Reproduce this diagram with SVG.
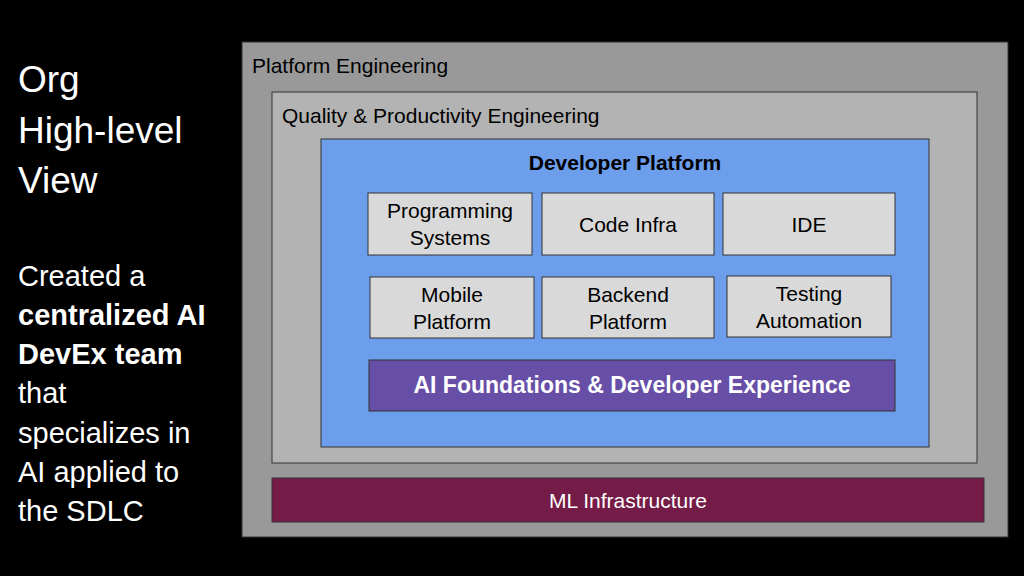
<svg xmlns="http://www.w3.org/2000/svg" width="1024" height="576" viewBox="0 0 1024 576">
<style>
text{font-family:"Liberation Sans",Arial,sans-serif}
.lt{fill:#fff;font-size:37px}
.p{fill:#fff;font-size:29px}
.b{fill:#d9d9d9;stroke:#333;stroke-width:1}
.bt{font-size:21px;fill:#000;text-anchor:middle}
</style>
<rect width="1024" height="576" fill="#000"/>
<text class="lt" x="18" y="92">Org</text>
<text class="lt" x="18" y="143">High-level</text>
<text class="lt" x="18" y="193">View</text>
<text class="p" x="18" y="286">Created a</text>
<text class="p" x="18" y="325" font-weight="bold">centralized AI</text>
<text class="p" x="18" y="364" font-weight="bold">DevEx team</text>
<text class="p" x="18" y="403">that</text>
<text class="p" x="18" y="443">specializes in</text>
<text class="p" x="18" y="482">AI applied to</text>
<text class="p" x="18" y="521">the SDLC</text>
<g id="platform-eng"><rect x="242" y="42" width="766" height="495" fill="#999" stroke="#333"/>
<text x="252" y="73" font-size="21">Platform Engineering</text></g>
<g id="qpe"><rect x="272" y="92" width="705" height="371" fill="#b3b3b3" stroke="#333"/>
<text x="282" y="123" font-size="21">Quality &amp; Productivity Engineering</text></g>
<g id="devplat"><rect x="321" y="139" width="608" height="308" fill="#6d9eeb" stroke="#333"/>
<text x="625" y="170" font-size="21" font-weight="bold" text-anchor="middle">Developer Platform</text></g>
<g id="prog"><rect class="b" x="368" y="193" width="164" height="62"/><text class="bt" x="450" y="218">Programming</text><text class="bt" x="450" y="245">Systems</text></g>
<g id="code"><rect class="b" x="542" y="193" width="172" height="62"/><text class="bt" x="628" y="232">Code Infra</text></g>
<g id="ide"><rect class="b" x="723" y="193" width="172" height="62"/><text class="bt" x="809" y="232">IDE</text></g>
<g id="mobile"><rect class="b" x="370" y="277" width="164" height="61"/><text class="bt" x="452" y="302">Mobile</text><text class="bt" x="452" y="329">Platform</text></g>
<g id="backend"><rect class="b" x="542" y="277" width="172" height="61"/><text class="bt" x="628" y="302">Backend</text><text class="bt" x="628" y="329">Platform</text></g>
<g id="testing"><rect class="b" x="727" y="276" width="164" height="61"/><text class="bt" x="809" y="301">Testing</text><text class="bt" x="809" y="328">Automation</text></g>
<g id="ai"><rect x="369" y="360" width="526" height="51" fill="#674ea7" stroke="#333"/><text x="632" y="393" font-size="23" font-weight="bold" fill="#fff" text-anchor="middle">AI Foundations &amp; Developer Experience</text></g>
<g id="ml"><rect x="272" y="478" width="712" height="44" fill="#741b47" stroke="#333"/><text x="628" y="508" font-size="21" fill="#fff" text-anchor="middle">ML Infrastructure</text></g>
<g id="connectors"/>
</svg>
